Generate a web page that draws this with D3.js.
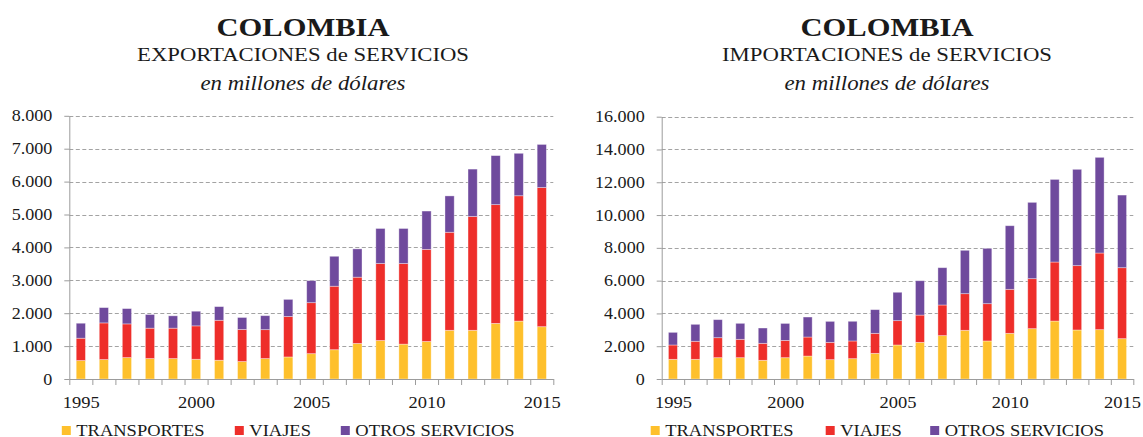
<!DOCTYPE html>
<html>
<head>
<meta charset="utf-8">
<script src="https://cdn.jsdelivr.net/npm/d3@7/dist/d3.min.js"></script>
<style>
  body { margin: 0; background: #fff; }
  svg { display: block; }
</style>
</head>
<body>
<svg id="chart" width="1143" height="437"></svg>
<script>
// Colombia: trade in services by category, millions of US dollars
const years = [1995, 1996, 1997, 1998, 1999, 2000, 2001, 2002, 2003, 2004, 2005,
               2006, 2007, 2008, 2009, 2010, 2011, 2012, 2013, 2014, 2015];
const seriesNames = ["TRANSPORTES", "VIAJES", "OTROS SERVICIOS"];
const yearLabels = [1995, 2000, 2005, 2010, 2015];

// Exports
const expTransportes = [560, 590, 650, 620, 620, 600, 570, 530, 620, 670, 770,
                        890, 1080, 1170, 1060, 1140, 1480, 1480, 1690, 1760, 1590];
const expViajes      = [680, 1115, 1025, 925, 925, 1015, 1215, 975, 880, 1230, 1550,
                        1930, 2015, 2340, 2450, 2800, 2980, 3460, 3610, 3810, 4230];
const expOtros       = [455, 465, 465, 415, 375, 445, 415, 365, 425, 520, 670,
                        910, 860, 1065, 1065, 1165, 1105, 1440, 1490, 1290, 1310];
const expTicks = [0, 1000, 2000, 3000, 4000, 5000, 6000, 7000, 8000];

// Imports
const impTransportes = [1200, 1200, 1300, 1300, 1140, 1300, 1400, 1180, 1240, 1565, 2075,
                        2235, 2645, 2970, 2320, 2785, 3070, 3535, 2990, 3010, 2460];
const impViajes      = [875, 1100, 1220, 1120, 1035, 1055, 1160, 1055, 1080, 1220, 1485,
                        1665, 1870, 2235, 2275, 2685, 3050, 3600, 3925, 4675, 4330];
const impOtros       = [770, 1035, 1100, 975, 935, 1035, 1220, 1280, 1200, 1445, 1730,
                        2095, 2275, 2645, 3375, 3880, 4655, 5040, 5875, 5835, 4430];
const impTicks = [0, 2000, 4000, 6000, 8000, 10000, 12000, 14000, 16000];

const colors = ["#FEC02C", "#EE2E2A", "#6F4A9D"];
const SERIF = '"Liberation Serif", "Times New Roman", serif';
const INK = "#1a1a1a";
const esFormat = d3.formatLocale({ decimal: ",", thousands: ".", grouping: [3], currency: ["$", ""] }).format(",");

const svg = d3.select("#chart");

// Widen glyphs horizontally, keeping the text as real text
function widen(sel, k) {
  sel.each(function () {
    const w = this.getComputedTextLength();
    this.setAttribute("textLength", (w * k).toFixed(2));
    this.setAttribute("lengthAdjust", "spacingAndGlyphs");
  });
}
function fitWidth(sel, w) {
  sel.attr("textLength", w).attr("lengthAdjust", "spacingAndGlyphs");
}
function serif(sel, size) {
  sel.attr("font-family", null).attr("font-size", null)
     .style("font-family", SERIF).style("font-size", size + "px").attr("fill", INK);
}

function drawPanel(cfg) {
  const g = svg.append("g");
  const rows = years.map((yr, i) => ({
    year: yr, TRANSPORTES: cfg.values[0][i], VIAJES: cfg.values[1][i], "OTROS SERVICIOS": cfg.values[2][i]
  }));
  const stacked = d3.stack().keys(seriesNames)(rows);

  const x = d3.scaleBand().domain(years).range([cfg.x0, cfg.x1]).paddingInner(0.6).paddingOuter(0.3);
  const xLin = d3.scaleLinear().domain([years[0] - 0.5, years[years.length - 1] + 0.5]).range([cfg.x0, cfg.x1]);
  const y = d3.scaleLinear().domain([0, cfg.max]).range([cfg.yBase, cfg.yTop]);

  // Titles
  const t1 = g.append("text").attr("x", cfg.cx).attr("y", 36).attr("text-anchor", "middle")
    .style("font-weight", "bold").text("COLOMBIA");
  serif(t1, 26);
  fitWidth(t1, 173);
  const t2 = g.append("text").attr("x", cfg.cx).attr("y", 61).attr("text-anchor", "middle")
    .text(cfg.subtitle);
  serif(t2, 19);
  fitWidth(t2, cfg.subWidth);
  const t3 = g.append("text").attr("x", cfg.cx).attr("y", 90).attr("text-anchor", "middle")
    .style("font-style", "italic").text("en millones de dólares");
  serif(t3, 20);
  fitWidth(t3, 205);

  // Dashed gridlines
  g.append("g").selectAll("line").data(cfg.ticks.filter(d => d > 0)).join("line")
    .attr("x1", cfg.x0).attr("x2", cfg.x1)
    .attr("y1", d => Math.round(y(d)) + 0.5).attr("y2", d => Math.round(y(d)) + 0.5)
    .attr("stroke", "#a3a3a3").attr("stroke-width", 1).attr("stroke-dasharray", "4,2.5");

  // Stacked bars
  g.append("g").selectAll("g").data(stacked).join("g")
    .attr("fill", (d, i) => colors[i])
    .selectAll("rect").data(d => d).join("rect")
    .attr("x", d => x(d.data.year))
    .attr("width", x.bandwidth())
    .attr("y", d => y(d[1]))
    .attr("height", d => y(d[0]) - y(d[1]))
    .attr("stroke", "rgba(255,255,255,0.45)").attr("stroke-width", 0.8);

  // Y axis
  const yAxis = g.append("g").attr("transform", `translate(${cfg.x0},0)`)
    .call(d3.axisLeft(y).tickValues(cfg.ticks).tickFormat(esFormat).tickSize(5).tickSizeOuter(0).tickPadding(12));
  yAxis.attr("font-family", null).attr("font-size", null);
  yAxis.select(".domain").attr("stroke", "#9c9c9c");
  yAxis.selectAll(".tick line").attr("stroke", "#9c9c9c");
  serif(yAxis.selectAll("text"), 16);
  widen(yAxis.selectAll("text"), 1.13);

  // X axis: ticks between categories
  const xAxis = g.append("g").attr("transform", `translate(0,${cfg.yBase})`)
    .call(d3.axisBottom(xLin).tickValues(years.map(v => v - 0.5).concat([years[years.length - 1] + 0.5]))
      .tickFormat("").tickSize(6).tickSizeOuter(0));
  xAxis.select(".domain").attr("stroke", "#9c9c9c");
  xAxis.selectAll(".tick line").attr("stroke", "#9c9c9c");

  const xLabels = g.append("g").attr("transform", `translate(0,${cfg.yBase})`)
    .call(d3.axisBottom(xLin).tickValues(yearLabels).tickFormat(d3.format("d")).tickSize(0).tickPadding(17.5));
  xLabels.attr("font-family", null).attr("font-size", null);
  xLabels.select(".domain").remove();
  serif(xLabels.selectAll("text"), 16.5);
  widen(xLabels.selectAll("text"), 1.12);

  // Legend
  const leg = g.append("g").selectAll("g").data(seriesNames).join("g")
    .attr("transform", (d, i) => `translate(${cfg.x0 + cfg.legendOffsets[i]},0)`);
  leg.append("rect").attr("x", 0).attr("y", 426).attr("width", 9).attr("height", 9)
    .attr("fill", (d, i) => colors[i]);
  const lt = leg.append("text").attr("x", 14.5).attr("y", 436).text(d => d);
  serif(lt, 16.5);
  widen(lt, 1.12);
}

drawPanel({
  values: [expTransportes, expViajes, expOtros], ticks: expTicks, max: 8000,
  x0: 69.3, x1: 553.3, yBase: 379, yTop: 115.8, cx: 303,
  subtitle: "EXPORTACIONES de SERVICIOS", subWidth: 332,
  legendOffsets: [-7.5, 165.5, 271.5]
});
drawPanel({
  values: [impTransportes, impViajes, impOtros], ticks: impTicks, max: 16000,
  x0: 661.7, x1: 1133.3, yBase: 379, yTop: 116.7, cx: 887,
  subtitle: "IMPORTACIONES de SERVICIOS", subWidth: 330,
  legendOffsets: [-11, 164, 268.5]
});
</script>
</body>
</html>
